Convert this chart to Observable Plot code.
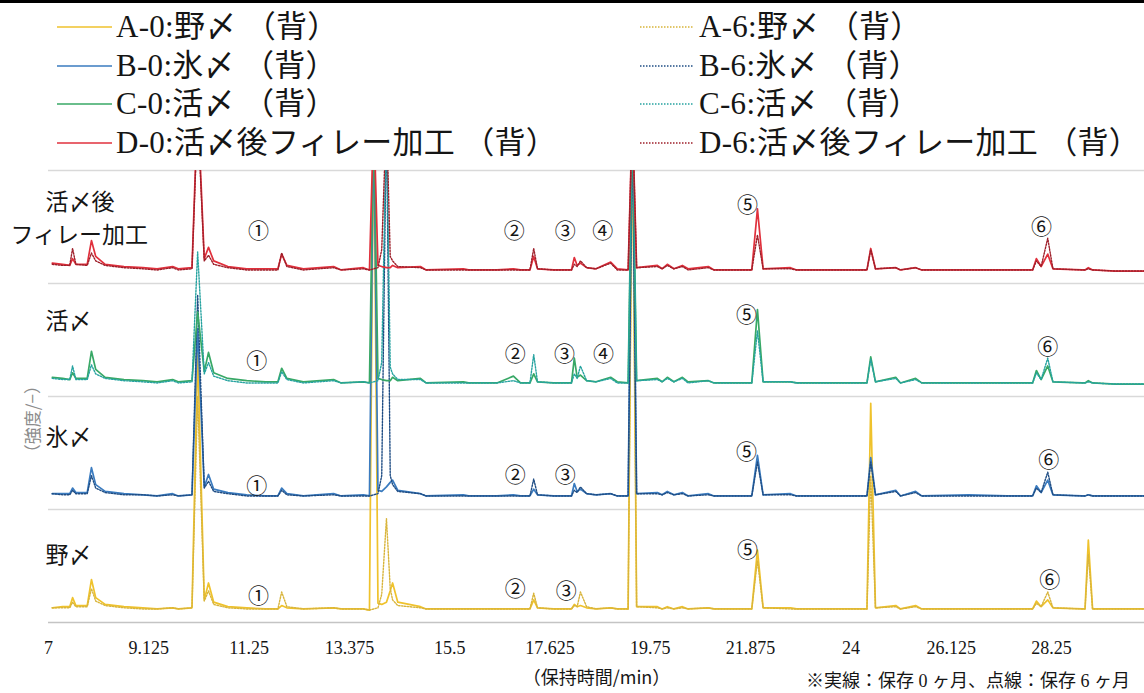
<!DOCTYPE html>
<html>
<head>
<meta charset="utf-8">
<script src="https://cdn.jsdelivr.net/npm/d3@7"></script>
<script src="https://cdn.jsdelivr.net/npm/@observablehq/plot@0.6"></script>
<style>
  html, body { margin: 0; padding: 0; background: #fff; overflow: hidden; }
  #wrap { position: relative; width: 1144px; height: 693px; overflow: hidden; background: #fff; }
  #topline { position: absolute; left: 0; top: 0; width: 1144px; height: 3px; background: #000; }
  .lg { position: absolute; font-family: "Liberation Serif", "Noto Sans CJK JP", serif; font-size: 31px;
        letter-spacing: 0.3px; line-height: 38px; height: 38px; white-space: nowrap; color: #151515; }
  .sw { position: absolute; overflow: visible; }
  #chart { position: absolute; left: 0; top: 160px; }
  #note { position: absolute; left: 806px; top: 671px; font-family: "Liberation Serif", "Noto Sans CJK JP", serif;
          font-size: 18px; line-height: 20px; white-space: nowrap; color: #151515; }
</style>
</head>
<body>
<div id="wrap">
  <div id="topline"></div>
  <div id="legend"></div>
  <div id="chart"></div>
  <div id="note"></div>
</div>
<script>
// Retention time grid (min)
const times = [
  7.08, 7.30, 7.45, 7.51, 7.58, 7.82, 7.91, 8.00, 8.20, 8.60,
  9.00, 9.30, 9.63, 9.75, 10.04, 10.16, 10.30, 10.39, 10.50, 10.80,
  11.20, 11.60, 11.86, 11.94, 12.05, 12.40, 13.04, 13.20, 13.67, 13.80,
  13.89, 13.98, 14.06, 14.16, 14.24, 14.29, 14.40, 14.88, 15.00, 15.79,
  15.90, 16.50, 16.85, 17.00, 17.20, 17.28, 17.36, 17.70, 18.08, 18.14,
  18.20, 18.27, 18.40, 18.60, 18.91, 19.05, 19.28, 19.37, 19.46, 19.90,
  20.00, 20.11, 20.25, 20.43, 20.55, 20.98, 21.10, 21.90, 22.02, 22.14,
  22.72, 22.85, 23.70, 24.34, 24.42, 24.52, 24.95, 25.05, 25.37, 25.50,
  26.50, 27.30, 27.85, 27.93, 28.03, 28.17, 28.28, 28.90, 28.96, 29.03,
  29.12, 29.60, 30.22
];

// Intensities (relative units, one band = 1) — 0 months (solid) and 6 months (dotted)
const a0 = [
  0.13, 0.14, 0.14, 0.22, 0.15, 0.15, 0.38, 0.22, 0.16, 0.14,
  0.13, 0.12, 0.13, 0.12, 0.13, 2.40, 0.20, 0.35, 0.18, 0.14,
  0.13, 0.12, 0.12, 0.15, 0.13, 0.12, 0.13, 0.12, 0.12, 0.11,
  4.50, 0.17, 0.16, 0.18, 0.28, 0.35, 0.18, 0.14, 0.12, 0.12,
  0.12, 0.12, 0.12, 0.12, 0.12, 0.20, 0.13, 0.12, 0.12, 0.16,
  0.14, 0.15, 0.13, 0.12, 0.13, 0.12, 0.12, 4.50, 0.14, 0.14,
  0.12, 0.14, 0.12, 0.14, 0.12, 0.13, 0.12, 0.12, 0.64, 0.13,
  0.13, 0.12, 0.12, 0.12, 1.94, 0.13, 0.15, 0.12, 0.15, 0.12,
  0.12, 0.12, 0.12, 0.19, 0.14, 0.20, 0.13, 0.12, 0.12, 0.73,
  0.12, 0.12, 0.12
];
const a6 = [
  0.13, 0.13, 0.13, 0.18, 0.14, 0.14, 0.30, 0.19, 0.15, 0.13,
  0.12, 0.12, 0.13, 0.12, 0.13, 2.00, 0.19, 0.28, 0.16, 0.13,
  0.12, 0.12, 0.12, 0.27, 0.14, 0.12, 0.13, 0.12, 0.12, 0.11,
  0.12, 0.13, 0.25, 0.92, 0.30, 0.20, 0.15, 0.13, 0.12, 0.12,
  0.12, 0.12, 0.12, 0.12, 0.12, 0.26, 0.13, 0.12, 0.12, 0.15,
  0.14, 0.27, 0.14, 0.12, 0.13, 0.12, 0.12, 4.50, 0.14, 0.13,
  0.12, 0.13, 0.12, 0.13, 0.12, 0.13, 0.12, 0.12, 0.55, 0.13,
  0.12, 0.12, 0.12, 0.12, 1.30, 0.13, 0.14, 0.12, 0.14, 0.12,
  0.12, 0.12, 0.12, 0.17, 0.14, 0.27, 0.13, 0.12, 0.12, 0.60,
  0.12, 0.12, 0.12
];
const b0 = [
  0.14, 0.14, 0.14, 0.19, 0.15, 0.15, 0.37, 0.22, 0.16, 0.14,
  0.13, 0.12, 0.14, 0.12, 0.13, 1.60, 0.20, 0.31, 0.18, 0.15,
  0.13, 0.12, 0.12, 0.19, 0.14, 0.12, 0.14, 0.12, 0.13, 0.12,
  3.50, 0.17, 0.16, 0.20, 0.24, 0.26, 0.17, 0.14, 0.12, 0.13,
  0.12, 0.12, 0.13, 0.12, 0.12, 0.18, 0.13, 0.12, 0.12, 0.23,
  0.16, 0.18, 0.14, 0.13, 0.14, 0.12, 0.12, 3.50, 0.14, 0.15,
  0.13, 0.16, 0.13, 0.15, 0.12, 0.14, 0.12, 0.12, 0.48, 0.13,
  0.14, 0.12, 0.12, 0.12, 0.46, 0.13, 0.17, 0.12, 0.16, 0.12,
  0.13, 0.12, 0.12, 0.21, 0.15, 0.26, 0.13, 0.12, 0.12, 0.13,
  0.12, 0.12, 0.12
];
const b6 = [
  0.14, 0.13, 0.13, 0.17, 0.14, 0.14, 0.30, 0.19, 0.15, 0.13,
  0.13, 0.12, 0.13, 0.12, 0.13, 1.90, 0.19, 0.25, 0.16, 0.14,
  0.12, 0.12, 0.12, 0.17, 0.13, 0.12, 0.13, 0.12, 0.12, 0.12,
  0.13, 0.14, 0.30, 3.50, 0.30, 0.22, 0.16, 0.14, 0.12, 0.12,
  0.12, 0.12, 0.12, 0.12, 0.12, 0.27, 0.13, 0.12, 0.12, 0.17,
  0.15, 0.20, 0.14, 0.13, 0.14, 0.12, 0.12, 3.50, 0.14, 0.14,
  0.13, 0.15, 0.13, 0.14, 0.12, 0.13, 0.12, 0.12, 0.42, 0.13,
  0.13, 0.12, 0.12, 0.12, 0.42, 0.13, 0.16, 0.12, 0.15, 0.12,
  0.12, 0.12, 0.12, 0.19, 0.15, 0.33, 0.13, 0.12, 0.12, 0.13,
  0.12, 0.12, 0.12
];
const c0 = [
  0.17, 0.16, 0.15, 0.21, 0.16, 0.16, 0.40, 0.24, 0.17, 0.15,
  0.14, 0.13, 0.15, 0.13, 0.14, 0.75, 0.22, 0.39, 0.21, 0.16,
  0.14, 0.13, 0.13, 0.25, 0.16, 0.13, 0.15, 0.12, 0.13, 0.12,
  2.50, 0.16, 0.15, 0.14, 0.14, 0.17, 0.14, 0.16, 0.12, 0.13,
  0.12, 0.12, 0.18, 0.12, 0.12, 0.20, 0.13, 0.12, 0.12, 0.34,
  0.17, 0.19, 0.14, 0.13, 0.17, 0.13, 0.12, 2.50, 0.14, 0.16,
  0.13, 0.17, 0.13, 0.17, 0.13, 0.14, 0.12, 0.12, 0.77, 0.13,
  0.13, 0.12, 0.12, 0.12, 0.35, 0.13, 0.17, 0.12, 0.16, 0.12,
  0.12, 0.12, 0.12, 0.23, 0.15, 0.27, 0.13, 0.12, 0.12, 0.14,
  0.12, 0.11, 0.11
];
const c6 = [
  0.16, 0.15, 0.15, 0.27, 0.15, 0.15, 0.28, 0.20, 0.16, 0.14,
  0.13, 0.12, 0.14, 0.12, 0.13, 1.28, 0.20, 0.30, 0.18, 0.14,
  0.12, 0.12, 0.12, 0.22, 0.15, 0.12, 0.14, 0.12, 0.13, 0.12,
  0.13, 0.14, 0.30, 2.50, 0.26, 0.20, 0.15, 0.15, 0.12, 0.12,
  0.12, 0.12, 0.14, 0.12, 0.12, 0.37, 0.13, 0.12, 0.12, 0.20,
  0.16, 0.27, 0.14, 0.13, 0.16, 0.12, 0.12, 2.50, 0.14, 0.15,
  0.13, 0.16, 0.13, 0.16, 0.12, 0.14, 0.12, 0.12, 0.58, 0.13,
  0.13, 0.12, 0.12, 0.12, 0.33, 0.13, 0.16, 0.12, 0.15, 0.12,
  0.12, 0.12, 0.12, 0.21, 0.15, 0.34, 0.13, 0.12, 0.12, 0.13,
  0.12, 0.11, 0.11
];
const d0 = [
  0.18, 0.17, 0.16, 0.22, 0.17, 0.17, 0.38, 0.24, 0.17, 0.15,
  0.14, 0.13, 0.15, 0.13, 0.14, 1.60, 0.22, 0.32, 0.20, 0.15,
  0.13, 0.13, 0.13, 0.26, 0.16, 0.13, 0.15, 0.12, 0.14, 0.12,
  1.50, 0.16, 0.15, 0.14, 0.14, 0.16, 0.14, 0.15, 0.12, 0.13,
  0.12, 0.12, 0.13, 0.12, 0.12, 0.24, 0.13, 0.12, 0.12, 0.23,
  0.16, 0.18, 0.14, 0.13, 0.19, 0.13, 0.12, 1.50, 0.14, 0.16,
  0.13, 0.17, 0.13, 0.16, 0.13, 0.15, 0.12, 0.12, 0.66, 0.13,
  0.14, 0.12, 0.12, 0.12, 0.31, 0.13, 0.14, 0.12, 0.14, 0.12,
  0.12, 0.12, 0.12, 0.22, 0.15, 0.26, 0.13, 0.12, 0.12, 0.14,
  0.12, 0.11, 0.11
];
const d6 = [
  0.17, 0.16, 0.16, 0.31, 0.17, 0.16, 0.27, 0.20, 0.16, 0.14,
  0.13, 0.12, 0.14, 0.12, 0.13, 1.50, 0.20, 0.25, 0.17, 0.14,
  0.12, 0.12, 0.12, 0.27, 0.15, 0.12, 0.14, 0.12, 0.13, 0.12,
  0.13, 0.14, 0.30, 1.50, 0.24, 0.20, 0.15, 0.14, 0.12, 0.12,
  0.12, 0.12, 0.12, 0.12, 0.12, 0.31, 0.13, 0.12, 0.12, 0.17,
  0.15, 0.20, 0.14, 0.13, 0.18, 0.12, 0.12, 1.50, 0.14, 0.15,
  0.13, 0.16, 0.13, 0.15, 0.12, 0.14, 0.12, 0.12, 0.43, 0.13,
  0.13, 0.12, 0.12, 0.12, 0.30, 0.13, 0.14, 0.12, 0.14, 0.12,
  0.12, 0.12, 0.12, 0.20, 0.15, 0.40, 0.13, 0.12, 0.12, 0.13,
  0.12, 0.11, 0.11
];

// Sample groups, bottom band first
const bandNames = ["野〆", "氷〆", "活〆", "活〆後フィレー加工"];
const seriesKeys = ["A-0", "B-0", "C-0", "D-0", "A-6", "B-6", "C-6", "D-6"];
const seriesNames = [
  "A-0:野〆 （背）", "B-0:氷〆 （背）", "C-0:活〆 （背）", "D-0:活〆後フィレー加工 （背）",
  "A-6:野〆 （背）", "B-6:氷〆 （背）", "C-6:活〆 （背）", "D-6:活〆後フィレー加工 （背）"
];
const seriesValues = [a0, b0, c0, d0, a6, b6, c6, d6];
const seriesBand = [0, 1, 2, 3, 0, 1, 2, 3];

// x-axis ticks
const xTicks = [7, 9.125, 11.25, 13.375, 15.5, 17.625, 19.75, 21.875, 24, 26.125, 28.25];
const xLabel = "（保持時間/min）";
const yLabel = "（強度/−）";
const noteText = "※実線：保存 0 ヶ月、点線：保存 6 ヶ月";

// Peak markers (label, time, band, height within band)
const peakLabels = ["①","②","③","④","⑤","⑥", "①","②","③","④","⑤","⑥", "①","②","③","⑤","⑥", "①","②","③","⑤","⑥"];
const peakTimes  = [11.45,16.87,17.95,18.74,21.81,28.04, 11.41,16.89,17.93,18.76,21.79,28.17, 11.41,16.89,17.95,21.79,28.19, 11.45,16.89,17.97,21.81,28.21];
const peakBands  = [3,3,3,3,3,3, 2,2,2,2,2,2, 1,1,1,1,1, 0,0,0,0,0];
const peakLevels = [0.46,0.46,0.46,0.46,0.69,0.50, 0.31,0.37,0.37,0.37,0.72,0.44, 0.21,0.30,0.30,0.51,0.44, 0.23,0.29,0.28,0.64,0.37];

// ---- styling ----
const colors = {
  "A-0": "#efc22c", "B-0": "#3a7bbf", "C-0": "#38a866", "D-0": "#e0303c",
  "A-6": "#d8b43a", "B-6": "#1f4d84", "C-6": "#26a3a0", "D-6": "#9e1f2a"
};
const serifFont = '"Liberation Serif", "Noto Sans CJK JP", serif';
const cjkFont = '"Noto Sans CJK JP", sans-serif';

// ---- legend (HTML, above the plot) ----
const legend = d3.select("#legend");
const rowCenters = [27, 65.5, 104, 142.5];
seriesKeys.forEach((k, i) => {
  const col = i < 4 ? 0 : 1;
  const row = i % 4;
  const cy = rowCenters[row];
  const lx0 = col === 0 ? 57 : 640, lx1 = col === 0 ? 112 : 693;
  const tx = col === 0 ? 116 : 699;
  const sw = legend.append("svg").attr("class", "sw")
    .style("left", lx0 + "px").style("top", (cy - 3) + "px")
    .attr("width", lx1 - lx0).attr("height", 6);
  sw.append("line").attr("x1", 0).attr("x2", lx1 - lx0).attr("y1", 3).attr("y2", 3)
    .attr("stroke", colors[k]).attr("stroke-width", 1.6)
    .attr("stroke-dasharray", col === 1 ? "1.5,1.5" : null);
  legend.append("div").attr("class", "lg")
    .style("left", tx + "px").style("top", (cy - 19) + "px")
    .text(seriesNames[i]);
});

d3.select("#note").text(noteText);

// ---- traces ----
const rows = [];
seriesKeys.forEach((k, i) => {
  const vals = seriesValues[i];
  times.forEach((t, j) => rows.push({key: k, t, y: seriesBand[i] + vals[j]}));
});

const solidKeys = ["A-0", "B-0", "C-0", "D-0"];
const dottedKeys = ["A-6", "B-6", "C-6", "D-6"];
const lineMarks = [];
[0, 1, 2, 3].forEach(b => {
  const s = solidKeys[b], d = dottedKeys[b];
  lineMarks.push(Plot.line(rows.filter(r => r.key === s),
    {x: "t", y: "y", stroke: colors[s], strokeWidth: 1.7, clip: true}));
  lineMarks.push(Plot.line(rows.filter(r => r.key === d),
    {x: "t", y: "y", stroke: colors[d], strokeWidth: 1.4, strokeDasharray: "1.5,1.5", clip: true}));
});

const peaks = peakLabels.map((label, i) => ({label, t: peakTimes[i], y: peakBands[i] + peakLevels[i]}));

// Group names at the left of each band
const bandLabels = [
  {text: "活〆後", y: 3 + 0.72},
  {text: "活〆", y: 2 + 0.66},
  {text: "氷〆", y: 1 + 0.64},
  {text: "野〆", y: 0 + 0.59}
];
const bandLabelWrap = [{text: "フィレー加工", y: 3 + 0.42}];

const chart = Plot.plot({
  width: 1144,
  height: 533,
  marginLeft: 48,
  marginRight: 0,
  marginTop: 10,
  marginBottom: 71,
  style: {fontFamily: serifFont, fontSize: "18px", background: "transparent", color: "#151515", overflow: "visible"},
  x: {domain: [7, 30.22], ticks: xTicks, tickFormat: d => String(d), tickSize: 0, tickPadding: 19, label: null},
  y: {domain: [0, 4], axis: null},
  marks: [
    Plot.ruleY([1, 2, 3, 4], {stroke: "#d9d9d9", strokeWidth: 1.6}),
    Plot.ruleY([0], {stroke: "#c4c4c4", strokeWidth: 1.6}),
    ...lineMarks,
    Plot.text(peaks, {x: "t", y: "y", text: "label", fontFamily: cjkFont, fontSize: 21, fill: "#151515"}),
    Plot.text(bandLabels, {x: () => 7, y: "y", text: "text", dx: -3, textAnchor: "start", fontFamily: cjkFont, fontSize: 23, fill: "#151515"}),
    Plot.text(bandLabelWrap, {x: () => 7, y: "y", text: "text", dx: -38, textAnchor: "start", fontFamily: cjkFont, fontSize: 23, fill: "#151515"}),
    Plot.text([xLabel], {frameAnchor: "bottom", dy: 61, fontFamily: cjkFont, fontSize: 18, fill: "#151515"}),
    Plot.text([yLabel], {x: () => 7, y: () => 1.8, rotate: -90, dx: -15, fontFamily: cjkFont, fontSize: 17, fill: "#8c8c8c"})
  ]
});
document.getElementById("chart").appendChild(chart);
</script>
</body>
</html>
